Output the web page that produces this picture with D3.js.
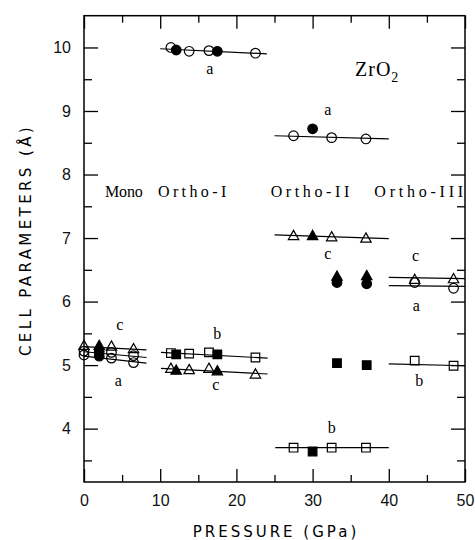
<!DOCTYPE html>
<html>
<head>
<meta charset="utf-8">
<script src="https://cdn.jsdelivr.net/npm/d3@7"></script>
<style>
  body { margin: 0; background: #fff; }
  svg { display: block; }
</style>
</head>
<body>
<svg id="chart" width="475" height="540"></svg>
<script>
// pressure (GPa) and cell parameters (Å)
const monoP = [0, 2, 3.6, 6.5];
const monoFilled = [false, true, false, false];
const monoA = [5.16, 5.14, 5.11, 5.04];
const monoB = [5.22, 5.21, 5.20, 5.15];
const monoC = [5.30, 5.30, 5.29, 5.25];

const ortho1P = [11.4, 12.1, 13.8, 16.4, 17.5, 22.5];
const ortho1Filled = [false, true, false, false, true, false];
const ortho1A = [10.0, 9.96, 9.94, 9.95, 9.94, 9.91];
const ortho1B = [5.19, 5.17, 5.18, 5.20, 5.17, 5.12];
const ortho1C = [4.94, 4.91, 4.92, 4.94, 4.90, 4.85];

const ortho2P = [27.5, 30, 32.5, 37];
const ortho2Filled = [false, true, false, false];
const ortho2A = [8.61, 8.72, 8.58, 8.56];
const ortho2B = [3.70, 3.64, 3.70, 3.70];
const ortho2C = [7.03, 7.03, 7.01, 6.99];

const ortho3P = [33.2, 37.1, 43.4, 48.5];
const ortho3Filled = [true, true, false, false];
const ortho3A = [6.30, 6.28, 6.30, 6.21];
const ortho3B = [5.03, 5.00, 5.07, 4.99];
const ortho3C = [6.39, 6.40, 6.34, 6.35];

// linear fits: [p start, value start, p end, value end]
const monoFits = [[0, 5.29, 8.2, 5.24], [0, 5.21, 8.2, 5.12], [0, 5.14, 8.2, 5.03]];
const ortho1Fits = [[10, 9.98, 24, 9.90], [10.1, 5.20, 24.1, 5.11], [10.1, 4.95, 24.1, 4.86]];
const ortho2Fits = [[25, 8.61, 40, 8.56], [25, 7.05, 40, 6.99], [25.1, 3.70, 40, 3.70]];
const ortho3Fits = [[40, 6.38, 50, 6.36], [40, 6.25, 50, 6.24], [40, 5.02, 50, 4.99]];

// axis labels a/b/c: [text, p, value]
const axisNotes = [
  ["c", 4.7, 5.63], ["a", 4.5, 4.75],
  ["a", 16.5, 9.65], ["b", 17.5, 5.48], ["c", 17.3, 4.69],
  ["a", 32, 9.02], ["c", 32, 6.75], ["b", 32.5, 4.0],
  ["c", 43.5, 6.71], ["a", 43.6, 5.93], ["b", 44, 4.74]
];
const phaseNames = ["Mono", "Ortho-I", "Ortho-II", "Ortho-III"];
const phaseStart = [2.75, 9.7, 24.5, 38.1];
const phaseLevel = 7.73;

const xTicks = [0, 10, 20, 30, 40, 50];
const xMinor = [5, 15, 25, 35, 45];
const yTicks = [4, 5, 6, 7, 8, 9, 10];
const yMinor = [3.5, 4.5, 5.5, 6.5, 7.5, 8.5, 9.5];

const svg = d3.select("#chart");
const plotLeft = 84, plotRight = 465, plotTop = 15.7, plotBottom = 482;

const x = d3.scaleLinear().domain([0, 50]).range([plotLeft, plotRight]);
const y = d3.scaleLinear().domain([3.16, 10.5]).range([plotBottom, plotTop]);

svg.append("rect").attr("width", 475).attr("height", 540).attr("fill", "#fff");

// ticks (all pointing inward)
const tickFont = "'Liberation Sans', Arial, sans-serif";
function styleAxis(g, labels) {
  g.select(".domain").remove();
  g.selectAll("line").attr("stroke", "#000").attr("stroke-width", 1.3);
  if (!labels) g.selectAll("text").remove();
  else g.selectAll("text").attr("font-family", tickFont).attr("font-size", 16).attr("fill", "#111");
}
svg.append("g").attr("transform", `translate(0,${plotBottom})`)
  .call(d3.axisBottom(x).tickValues(xTicks).tickSize(-13).tickPadding(13).tickFormat(d3.format("d")))
  .call(g => styleAxis(g, true));
svg.append("g").attr("transform", `translate(0,${plotBottom})`)
  .call(d3.axisBottom(x).tickValues(xMinor).tickSize(-7))
  .call(g => styleAxis(g, false));
svg.append("g").attr("transform", `translate(0,${plotTop})`)
  .call(d3.axisTop(x).tickValues(xTicks).tickSize(-13))
  .call(g => styleAxis(g, false));
svg.append("g").attr("transform", `translate(0,${plotTop})`)
  .call(d3.axisTop(x).tickValues(xMinor).tickSize(-7))
  .call(g => styleAxis(g, false));

svg.append("g").attr("transform", `translate(${plotLeft},0)`)
  .call(d3.axisLeft(y).tickValues(yTicks).tickSize(-14).tickPadding(13).tickFormat(d3.format("d")))
  .call(g => styleAxis(g, true));
svg.append("g").attr("transform", `translate(${plotLeft},0)`)
  .call(d3.axisLeft(y).tickValues(yMinor).tickSize(-8))
  .call(g => styleAxis(g, false));
svg.append("g").attr("transform", `translate(${plotRight},0)`)
  .call(d3.axisRight(y).tickValues(yTicks).tickSize(-14))
  .call(g => styleAxis(g, false));
svg.append("g").attr("transform", `translate(${plotRight},0)`)
  .call(d3.axisRight(y).tickValues(yMinor).tickSize(-8))
  .call(g => styleAxis(g, false));

svg.append("rect")
  .attr("x", plotLeft).attr("y", plotTop)
  .attr("width", plotRight - plotLeft).attr("height", plotBottom - plotTop)
  .attr("fill", "none").attr("stroke", "#000").attr("stroke-width", 1.5);

// fit lines
const fits = [].concat(monoFits, ortho1Fits, ortho2Fits, ortho3Fits);
svg.append("g").selectAll("line")
  .data(fits)
  .join("line")
  .attr("x1", d => x(d[0])).attr("y1", d => y(d[1]))
  .attr("x2", d => x(d[2])).attr("y2", d => y(d[3]))
  .attr("stroke", "#000").attr("stroke-width", 1.2);

// markers
function markerPath(shape) {
  if (shape === "circle") return d3.symbol(d3.symbolCircle, Math.PI * 4.8 * 4.8)();
  if (shape === "square") return "M-4.3,-4.3H4.3V4.3H-4.3Z";
  return "M0,-5.8L5.2,3.4H-5.2Z";
}

const series = [
  { p: monoP, filled: monoFilled, v: monoA, shape: "circle" },
  { p: monoP, filled: monoFilled, v: monoB, shape: "circle" },
  { p: monoP, filled: monoFilled, v: monoC, shape: "triangle" },
  { p: ortho1P, filled: ortho1Filled, v: ortho1A, shape: "circle" },
  { p: ortho1P, filled: ortho1Filled, v: ortho1B, shape: "square" },
  { p: ortho1P, filled: ortho1Filled, v: ortho1C, shape: "triangle" },
  { p: ortho2P, filled: ortho2Filled, v: ortho2A, shape: "circle" },
  { p: ortho2P, filled: ortho2Filled, v: ortho2B, shape: "square" },
  { p: ortho2P, filled: ortho2Filled, v: ortho2C, shape: "triangle" },
  { p: ortho3P, filled: ortho3Filled, v: ortho3A, shape: "circle" },
  { p: ortho3P, filled: ortho3Filled, v: ortho3B, shape: "square" },
  { p: ortho3P, filled: ortho3Filled, v: ortho3C, shape: "triangle" }
];

series.forEach(s => {
  svg.append("g").selectAll("path")
    .data(s.v.map((v, i) => ({ p: s.p[i], v: v, filled: s.filled[i] })))
    .join("path")
    .attr("d", markerPath(s.shape))
    .attr("transform", d => `translate(${x(d.p)},${y(d.v)})`)
    .attr("fill", d => d.filled ? "#000" : "none")
    .attr("stroke", "#000")
    .attr("stroke-width", 1.2);
});

// a / b / c labels
const serif = "'Liberation Serif', 'Times New Roman', serif";
svg.append("g").selectAll("text")
  .data(axisNotes)
  .join("text")
  .attr("x", d => x(d[1])).attr("y", d => y(d[2]))
  .attr("dy", "0.3em")
  .attr("text-anchor", "middle")
  .attr("font-family", serif).attr("font-size", 16)
  .text(d => d[0]);

// phase names, set like typewriter text (even advance per character)
const charPitch = 10.2;
svg.append("g").selectAll("text")
  .data(phaseNames)
  .join("text")
  .attr("x", (d, i) => x(phaseStart[i])).attr("y", y(phaseLevel))
  .attr("dy", "0.35em")
  .attr("font-family", serif).attr("font-size", 16)
  .attr("textLength", d => d.length * charPitch - 3)
  .attr("lengthAdjust", "spacing")
  .text(d => d);

// compound
const formula = svg.append("text")
  .attr("x", 355).attr("y", 76)
  .attr("font-family", serif).attr("font-size", 20)
  .attr("letter-spacing", "1px");
formula.append("tspan").text("ZrO");
formula.append("tspan").attr("dy", 6).attr("font-size", 14).text("2");

// axis titles
const titleFont = "'DejaVu Sans', Verdana, sans-serif";
svg.append("text")
  .attr("x", (plotLeft + plotRight) / 2 + 1.5).attr("y", 537)
  .attr("text-anchor", "middle")
  .attr("font-family", titleFont).attr("font-size", 15)
  .attr("letter-spacing", "3px")
  .text("PRESSURE (GPa)");

svg.append("text")
  .attr("transform", "translate(31,240) rotate(-90)")
  .attr("text-anchor", "middle")
  .attr("font-family", titleFont).attr("font-size", 15)
  .attr("letter-spacing", "3.4px")
  .text("CELL PARAMETERS (Å)");
</script>
</body>
</html>
